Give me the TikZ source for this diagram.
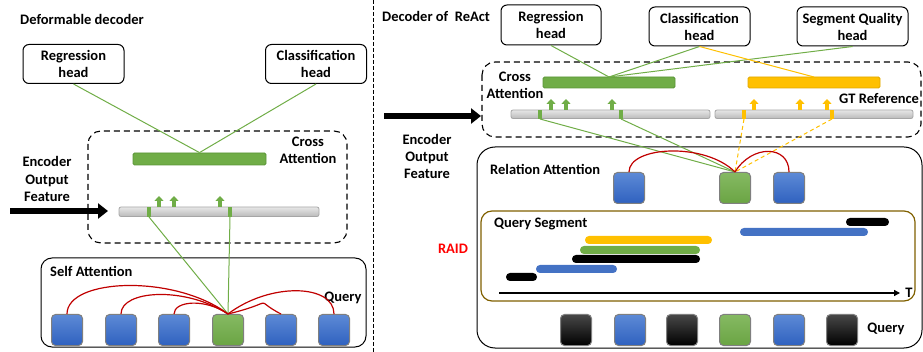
\documentclass[tikz,border=0pt]{standalone}
\usepackage{fontspec}
\setmainfont{Carlito}
\usetikzlibrary{arrows.meta}

\definecolor{qgreen}{HTML}{70AD47}
\definecolor{qgreendark}{HTML}{5B9538}
\definecolor{qyellow}{HTML}{FFC000}
\definecolor{qyellowdark}{HTML}{E0A800}
\definecolor{qbluetop}{HTML}{5D8AD6}
\definecolor{qbluebot}{HTML}{2F61BF}
\definecolor{qblueseg}{HTML}{4472C4}
\definecolor{qred}{HTML}{C00000}
\definecolor{qgray}{HTML}{D3D3D3}
\definecolor{qgrayline}{HTML}{A6A6A6}
\definecolor{sqborder}{HTML}{7F7F7F}
\definecolor{segframe}{HTML}{806000}

\tikzset{
  headbox/.style={draw, line width=1pt, rounded corners=6pt, minimum height=39pt,
    align=center, inner sep=0pt},
  dashbox/.style={draw, line width=1.1pt, dash pattern=on 6pt off 4pt, rounded corners=13pt},
  solidbox/.style={draw, line width=1pt, rounded corners=11pt},
  sqnode/.style={draw=sqborder, line width=1pt, rounded corners=4pt,
    minimum width=31pt, minimum height=31pt, inner sep=0pt},
  bluesq/.style={sqnode, top color=qbluetop, bottom color=qbluebot},
  greensq/.style={sqnode, top color=qgreen!85!white, bottom color=qgreen!95!black},
  blacksq/.style={sqnode, top color=black!72, bottom color=black},
  graybar/.style={draw=qgrayline, top color=qgray!55!white, bottom color=qgray!88!black,
    line width=0.8pt, rounded corners=2pt, inner sep=0pt},
  greenbar/.style={draw=qgreendark, fill=qgreen, line width=0.8pt, rounded corners=1.5pt, inner sep=0pt},
  yellowbar/.style={draw=qyellowdark, fill=qyellow, line width=0.8pt, rounded corners=1.5pt, inner sep=0pt},
  gline/.style={draw=qgreen, line width=1pt},
  yline/.style={draw=qyellow, line width=1pt},
  ydash/.style={draw=qyellow, line width=1pt, dash pattern=on 4pt off 3pt},
  redarc/.style={draw=qred, line width=1.2pt},
  uparrow/.style={line width=3.8pt, -{Triangle[width=9pt,length=5pt]}},
  bigarrow/.style={line width=6pt, -{Triangle[width=15pt,length=10pt]}},
  segbar/.style={rounded corners=3.9pt},
  txt/.style={inner sep=0pt, align=center},
}

\begin{document}
\begin{tikzpicture}[x=1pt, y=-1pt, font=\fontsize{14.5}{17}\selectfont\bfseries]
\useasboundingbox (0,0) rectangle (923,352);

% ---------------- Deformable decoder ----------------
\node[txt, anchor=west] (ltitle) at (20,19) {Deformable decoder};
\node[headbox, minimum width=101pt] (lreg) at (73.5,64) {Regression\\head};
\node[headbox, minimum width=101pt] (lcls) at (316,64) {Classification\\head};

\draw[dashbox] (88,131) rectangle (347,243);
\node[txt] (lcross) at (308,150) {Cross\\Attention};
\node[greenbar, minimum width=133pt, minimum height=12pt] (lgbar) at (199.5,159) {};
\draw[gline] (lreg.south) -- (lgbar.north);
\draw[gline] (lcls.south) -- (lgbar.north);

\node[txt, font=\fontsize{14.5}{17.5}\selectfont\bfseries] (lenc) at (47,179) {Encoder\\Output\\Feature};
\node[graybar, minimum width=200pt, minimum height=9.5pt] (lfeat) at (219,211.75) {};
\coordinate (lastart) at (10,211);
\coordinate (laend) at (108,211);
\draw[bigarrow] (lastart) -- (laend);

\fill[qgreen] (147,207) rectangle (151,217);
\fill[qgreen] (228,207) rectangle (232,217);
\coordinate (lm1) at (149,217);
\coordinate (lm2) at (230,217);
\foreach \x in {159,174,220} \draw[uparrow, qgreen] (\x,207) -- (\x,196);

\draw[solidbox] (41,258) rectangle (366,347);
\node[txt, anchor=west] (lself) at (50,271) {Self Attention};
\node[txt] (lquery) at (343,298) {Query};

\node[bluesq] (l1) at (67,330) {};
\node[bluesq] (l2) at (121,330) {};
\node[bluesq] (l3) at (174,330) {};
\node[greensq] (l4) at (228,330) {};
\node[bluesq] (l5) at (281,330) {};
\node[bluesq] (l6) at (334,330) {};

\draw[gline] (lm1) -- (l4.north);
\draw[gline] (lm2) -- (l4.north);

\draw[redarc] (l1.north) .. controls (67,278) and (175,274) .. (l4.north);
\draw[redarc] (l2.north) .. controls (121,290) and (185,286) .. (l4.north);
\draw[redarc] (l3.north) .. controls (174,301) and (205,298) .. (l4.north);
\draw[redarc] (l5.north) .. controls (250,298) and (281,301) .. (l4.north);
\draw[redarc] (l6.north) .. controls (334,284) and (270,282) .. (l4.north);

% separator
\draw[line width=0.7pt, dash pattern=on 4pt off 2pt] (373,0) -- (373,352);

% ---------------- Decoder of ReAct ----------------
\node[txt, anchor=west] (rtitle) at (382,16) {Decoder of\ \ ReAct};
\node[headbox, minimum width=100pt, minimum height=40pt] (rreg) at (551,25) {Regression\\head};
\node[headbox, minimum width=101pt] (rcls) at (699.5,26.5) {Classification\\head};
\node[headbox, minimum width=111pt] (rsq) at (852.5,26.5) {Segment Quality\\head};

\draw[dashbox] (482,62) rectangle (921,137);
\node[txt] (rcross) at (515,85) {Cross\\Attention};
\node[greenbar, minimum width=132pt, minimum height=11pt] (rgbar) at (609,82.5) {};
\node[yellowbar, minimum width=132pt, minimum height=11pt] (rybar) at (814,82.5) {};
\coordinate (rgtop) at (609,77);
\coordinate (rytop) at (814,77);
\node[txt, anchor=west] (rgt) at (839,99) {GT Reference};

\draw[gline] (rreg.south) -- (rgtop);
\draw[gline] (rcls.south) -- (rgtop);
\draw[gline] (rsq.south) -- (rgtop);
\draw[yline] (rcls.south) -- (rytop);

\node[graybar, minimum width=199pt, minimum height=8.5pt] (rfeat1) at (610.5,114.25) {};
\node[graybar, minimum width=198pt, minimum height=8.5pt] (rfeat2) at (814,114.25) {};
\fill[qgreen] (538,110) rectangle (542,119);
\fill[qgreen] (619,110) rectangle (623,119);
\fill[qyellow] (742,110) rectangle (746,119);
\fill[qyellow] (830,110) rectangle (834,119);
\coordinate (rm1) at (540,119);
\coordinate (rm2) at (621,119);
\coordinate (rm3) at (744,119);
\coordinate (rm4) at (832,119);
\foreach \x in {551,566,612} \draw[uparrow, qgreen] (\x,110) -- (\x,99);
\foreach \x in {754,800,827} \draw[uparrow, qyellow] (\x,110) -- (\x,99);

\coordinate (rastart) at (384,116);
\coordinate (raend) at (481,116);
\draw[bigarrow] (rastart) -- (raend);
\node[txt] (renc) at (427,156) {Encoder\\Output\\Feature};

\draw[solidbox, rounded corners=18pt] (477,147) rectangle (922,348);
\node[txt, anchor=west] (rrel) at (490,169) {Relation Attention};
\node[bluesq] (ra) at (629,188) {};
\node[greensq] (rb) at (735,188) {};
\node[bluesq] (rc) at (789,188) {};

\draw[gline] (rm1) -- (rb.north);
\draw[gline] (rm2) -- (rb.north);
\draw[ydash] (rm3) -- (rb.north);
\draw[ydash] (rm4) -- (rb.north);
\draw[redarc] (ra.north) .. controls (629,146) and (705,142) .. (rb.north);
\draw[redarc] (rb.north) .. controls (752,144) and (789,145) .. (rc.north);

\node[txt, text=red] (raid) at (453,249) {RAID};

\draw[draw=segframe, line width=1.2pt, rounded corners=11pt] (481,211) rectangle (915,301);
\node[txt, anchor=west] (rqs) at (494,224) {Query Segment};
% segments along the time axis
\fill[segbar, black]    (846,218) rectangle (889,226);
\fill[segbar, qblueseg] (740,228) rectangle (868,236);
\fill[segbar, qyellow]  (585,236) rectangle (712,244);
\fill[segbar, qgreen]   (580,246) rectangle (700,254);
\fill[segbar, black]    (572,255) rectangle (700,263);
\fill[segbar, qblueseg] (536,265) rectangle (617,273);
\fill[segbar, black]    (506,273) rectangle (537,281);

\coordinate (tstart) at (499,293);
\coordinate (tend) at (900,293);
\draw[line width=1.3pt, -{Triangle[width=6pt,length=6pt]}] (tstart) -- (tend);
\node[txt] (tlabel) at (909,293) {T};

\node[blacksq] (q1) at (576,330) {};
\node[bluesq]  (q2) at (630,330) {};
\node[blacksq] (q3) at (682,330) {};
\node[greensq] (q4) at (735,330) {};
\node[bluesq]  (q5) at (789,330) {};
\node[blacksq] (q6) at (842,330) {};
\node[txt] (rquery) at (886,329) {Query};
\end{tikzpicture}
\end{document}
